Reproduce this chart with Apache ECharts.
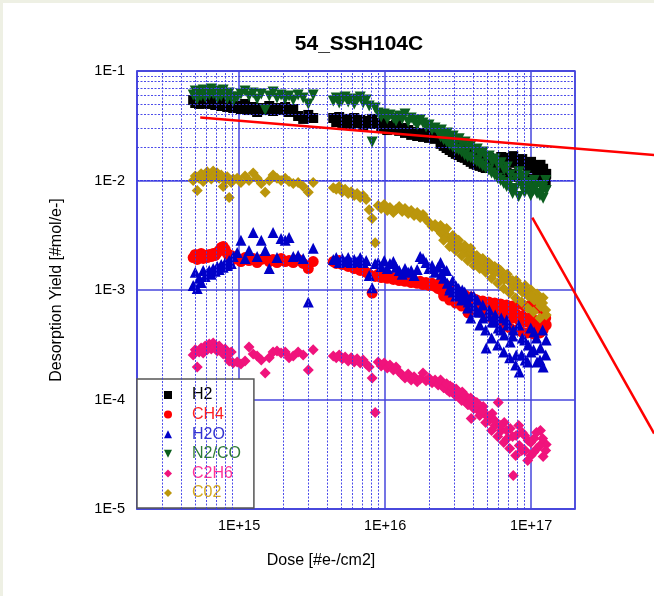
<!DOCTYPE html>
<html>
<head>
<meta charset="utf-8">
<script src="https://cdn.jsdelivr.net/npm/echarts@6/dist/echarts.min.js"></script>
<style>
  html, body { margin: 0; padding: 0; background: #eef0e4; }
  #main { position: absolute; left: 3px; top: 3px; width: 651px; height: 593px; }
</style>
</head>
<body>
<div id="main"></div>
<script>
// 剂量 (共用横坐标)
var dose = [
    4.85e14,5.01e14,5.17e14,5.33e14,5.50e14,5.68e14,5.86e14,6.05e14,6.25e14,6.45e14,6.65e14,6.87e14,7.09e14,7.31e14,7.55e14,7.79e14,8.04e14,8.30e14,8.56e14,8.84e14,9.12e14,
    9.71e14,1.03e15,1.10e15,1.17e15,1.25e15,1.33e15,1.42e15,1.51e15,1.61e15,1.71e15,1.82e15,1.94e15,2.07e15,2.20e15,2.35e15,2.54e15,2.75e15,2.98e15,3.22e15,
    4.42e15,4.63e15,4.85e15,5.09e15,5.33e15,5.59e15,5.86e15,6.15e15,6.44e15,6.76e15,7.08e15,7.43e15,7.79e15,8.16e15,8.56e15,
    8.97e15,9.41e15,9.87e15,1.035e16,1.08e16,1.14e16,1.19e16,1.25e16,1.31e16,1.37e16,1.44e16,1.51e16,1.58e16,1.66e16,1.74e16,1.82e16,1.91e16,2.00e16,2.10e16,2.20e16,
    2.31e16,2.43e16,2.54e16,2.67e16,2.79e16,2.93e16,3.07e16,3.22e16,3.38e16,3.54e16,3.71e16,3.89e16,4.08e16,4.28e16,4.49e16,4.70e16,4.93e16,5.17e16,5.42e16,5.68e16,
    5.96e16,6.25e16,6.55e16,6.87e16,7.20e16,7.55e16,7.91e16,8.30e16,8.70e16,9.12e16,9.56e16,1.00e17,1.05e17,1.10e17,1.16e17,1.21e17,1.27e17
];

var yieldH2 = [
    0.0543,0.0510,0.0555,0.0500,0.0532,0.0567,0.0510,0.0543,0.0500,0.0555,0.0521,0.0489,0.0543,0.0510,0.0479,0.0532,0.0500,0.0469,0.0521,0.0489,0.0459,
    0.0479,0.0450,0.0500,0.0440,0.0469,0.0422,0.0459,0.0440,0.0479,0.0431,0.0459,0.0440,0.0469,0.0422,0.0450,0.0388,0.0365,0.0397,0.0372,
    0.0372,0.0342,0.0380,0.0328,0.0365,0.0350,0.0322,0.0372,0.0335,0.0357,0.0315,0.0350,0.0328,0.0365,0.0335,
    0.0328,0.0302,0.0335,0.0289,0.0315,0.0296,0.0322,0.0284,0.0302,0.0272,0.0289,0.0261,0.0278,0.0255,0.0272,0.0250,0.0266,0.0245,0.0261,0.0240,
    0.0250,0.0235,0.0245,0.0220,0.0211,0.0198,0.0207,0.0190,0.0198,0.0186,0.0178,0.0190,0.0161,0.0145,0.0171,0.0164,0.0154,0.0161,0.0148,0.0154,
    0.0154,0.0164,0.0148,0.0161,0.0145,0.0167,0.0151,0.0139,0.0157,0.0145,0.0130,0.0148,0.0136,0.0122,0.0139,0.0128,0.0115
];

var yieldCH4 = [
    0.00198,0.00211,0.00190,0.00202,0.00216,0.00194,0.00207,0.00198,0.00211,0.00202,0.00216,0.00207,0.00220,0.00230,0.00245,0.00250,0.00235,0.00216,0.00198,0.00207,0.00190,
    0.00194,0.00182,0.00198,0.00186,0.00194,0.00178,0.00190,0.00198,0.00182,0.00190,0.00178,0.00194,0.00182,0.00186,0.00178,0.00190,0.00175,0.00157,0.00182,
    0.00182,0.00175,0.00186,0.00171,0.00175,0.00164,0.00167,0.00157,0.00161,0.00151,0.00154,0.00145,0.00139,0.000939,0.00133,
    0.00139,0.00130,0.00136,0.00128,0.00133,0.00125,0.00130,0.00122,0.00128,0.00120,0.00125,0.00117,0.00122,0.00115,0.00120,0.00112,0.00117,0.00110,0.00115,0.00108,
    0.00103,0.00100,0.00101,0.000958,0.000919,0.000979,0.000881,0.000845,0.000900,0.000810,0.000617,0.000777,0.000827,0.000729,0.000761,0.000699,0.000745,0.000671,0.000714,0.000643,
    0.000685,0.000617,0.000657,0.000579,0.000630,0.000555,0.000604,0.000532,0.000579,0.000510,0.000555,0.000489,0.000532,0.000459,0.000510,0.000431,0.000479
];

var yieldH2O = [
    0.00110,0.00145,0.00103,0.00128,0.00117,0.00151,0.00133,0.00142,0.00151,0.00139,0.00157,0.00148,0.00164,0.00154,0.00171,0.00161,0.00178,0.00167,0.00186,0.00175,0.00202,
    0.00220,0.00284,0.00194,0.00230,0.00335,0.00202,0.00284,0.00230,0.00157,0.00335,0.00198,0.00296,0.00284,0.00302,0.00202,0.00207,0.00194,0.000777,0.00240,
    0.00190,0.00198,0.00178,0.00194,0.00182,0.00198,0.00178,0.00190,0.00182,0.00198,0.00178,0.00186,0.00136,0.00105,0.00175,
    0.00178,0.00164,0.00186,0.00157,0.00175,0.00182,0.00161,0.00151,0.00139,0.00157,0.00145,0.00151,0.00136,0.00154,0.00202,0.00194,0.00178,0.00157,0.00167,0.00145,
    0.00161,0.00139,0.00151,0.00115,0.00105,0.000958,0.00108,0.000900,0.00100,0.000845,0.000777,0.000881,0.000714,0.000810,0.000630,0.000555,0.000296,0.000657,0.000510,0.000591,
    0.000450,0.000555,0.000388,0.000479,0.000335,0.000431,0.000255,0.000178,0.000365,0.000230,0.000315,0.000272,0.000414,0.000220,0.000296,0.000198,0.000350
];

var yieldN2CO = [
    0.0604,0.0657,0.0555,0.0630,0.0591,0.0671,0.0579,0.0643,0.0604,0.0685,0.0617,0.0657,0.0567,0.0630,0.0591,0.0671,0.0604,0.0555,0.0630,0.0579,0.0532,
    0.0579,0.0617,0.0657,0.0591,0.0630,0.0555,0.0617,0.0440,0.0591,0.0643,0.0567,0.0604,0.0555,0.0591,0.0543,0.0604,0.0567,0.0500,0.0604,
    0.0532,0.0567,0.0510,0.0543,0.0579,0.0521,0.0555,0.0500,0.0543,0.0579,0.0510,0.0543,0.0479,0.0225,0.0459,
    0.0414,0.0380,0.0405,0.0365,0.0397,0.0372,0.0350,0.0388,0.0365,0.0405,0.0342,0.0372,0.0350,0.0322,0.0357,0.0335,0.0308,0.0322,0.0289,0.0302,
    0.0278,0.0289,0.0261,0.0272,0.0245,0.0255,0.0230,0.0240,0.0216,0.0225,0.0198,0.0211,0.0186,0.0194,0.0171,0.0182,0.0161,0.0167,0.0148,0.0157,
    0.0136,0.0145,0.0125,0.0133,0.0112,0.0081,0.0105,0.0120,0.0090,0.0110,0.0096,0.0085,0.0100,0.0076,0.0090,0.0069,0.0081
];

var yieldC2H6 = [
    0.000255,0.000284,0.000198,0.000272,0.000296,0.000266,0.000308,0.000284,0.000322,0.000289,0.000328,0.000302,0.000278,0.000308,0.000284,0.000261,0.000289,0.000250,0.000225,0.000272,0.000216,
    0.000220,0.000211,0.000225,0.000302,0.000261,0.000250,0.000230,0.000175,0.000240,0.000272,0.000278,0.000266,0.000272,0.000240,0.000250,0.000272,0.000255,0.000186,0.000284,
    0.000250,0.000240,0.000255,0.000235,0.000245,0.000225,0.000240,0.000220,0.000235,0.000216,0.000230,0.000211,0.000198,0.000157,0.0000761,
    0.000220,0.000202,0.000216,0.000194,0.000207,0.000186,0.000198,0.000178,0.000167,0.000157,0.000171,0.000151,0.000161,0.000145,0.000154,0.000175,0.000148,0.000157,0.000142,0.000151,
    0.000136,0.000145,0.000130,0.000122,0.000133,0.000115,0.000125,0.000108,0.000117,0.000100,0.0000900,0.0000671,0.0000958,0.0000827,0.0000761,0.0000863,0.0000714,0.0000643,0.0000745,0.0000579,
    0.0000939,0.0000521,0.0000617,0.0000440,0.0000543,0.0000202,0.0000469,0.0000380,0.0000500,0.0000342,0.0000422,0.0000308,0.0000440,0.0000357,0.0000521,0.0000302,0.0000388
];

var yieldCO2 = [
    0.0100,0.0110,0.0081,0.0105,0.0115,0.0098,0.0108,0.0120,0.0112,0.0103,0.0122,0.0110,0.0117,0.0105,0.0112,0.0088,0.0100,0.0108,0.0070,0.0096,0.0103,
    0.0105,0.0096,0.0110,0.0100,0.0117,0.0105,0.0094,0.0078,0.0100,0.0112,0.0105,0.0100,0.0105,0.0098,0.0094,0.0096,0.0088,0.0078,0.0096,
    0.0086,0.0083,0.0088,0.0079,0.0083,0.0076,0.0079,0.0073,0.0076,0.0070,0.0073,0.0067,0.0054,0.0045,0.0027,
    0.00591,0.00555,0.00604,0.00532,0.00567,0.00510,0.00543,0.00579,0.00521,0.00555,0.00500,0.00532,0.00479,0.00510,0.00459,0.00489,0.00440,0.00414,0.00380,0.00397,
    0.00357,0.00328,0.00342,0.00308,0.00289,0.00272,0.00284,0.00255,0.00240,0.00225,0.00211,0.00220,0.00198,0.00178,0.00190,0.00175,0.00161,0.00171,0.00151,0.00145,
    0.00157,0.00136,0.00125,0.00139,0.00117,0.00108,0.00122,0.00103,0.00096,0.00110,0.00088,0.00100,0.00081,0.00092,0.00071,0.00085,0.00059
];

// 高剂量段的第二组测量 (数据更密集)
var dose2 = [
    2.40e16,2.52e16,2.64e16,2.77e16,2.91e16,3.05e16,3.19e16,3.35e16,3.51e16,3.68e16,3.86e16,4.05e16,4.25e16,4.45e16,4.67e16,4.89e16,5.13e16,5.37e16,
    5.64e16,5.91e16,6.19e16,6.50e16,6.81e16,7.14e16,7.48e16,7.85e16,8.23e16,8.63e16,9.04e16,9.48e16,9.95e16,1.04e17,1.09e17,1.15e17,1.20e17,1.26e17
];
var yieldH2b = [
    0.0216,0.0207,0.0198,0.0190,0.0182,0.0175,0.0171,0.0164,0.0161,0.0154,0.0148,0.0142,0.0139,0.0136,0.0133,0.0130,0.0136,0.0130,
    0.0125,0.0122,0.0125,0.0120,0.0117,0.0115,0.0112,0.0110,0.0108,0.0105,0.0105,0.0103,0.0100,0.0100,0.0098,0.0098,0.0100,0.0096
];
var yieldCH4b = [
    0.00117,0.000881,0.00110,0.000810,0.00103,0.000761,0.000958,0.000714,0.000900,0.000685,0.000863,0.000657,0.000810,0.000630,0.000793,0.000604,0.000777,0.000555,
    0.000761,0.000510,0.000745,0.000469,0.000729,0.000450,0.000714,0.000431,0.000745,0.000414,0.000714,0.000405,0.000729,0.000397,0.000685,0.000405,0.000657,0.000555
];
var yieldH2Ob = [
    0.00178,0.00128,0.00151,0.00100,0.00122,0.000881,0.00103,0.000810,0.000958,0.000685,0.000555,0.000881,0.000630,0.000479,0.000729,0.000431,0.000579,0.000365,
    0.000510,0.000315,0.000431,0.000272,0.000532,0.000240,0.000380,0.000207,0.000479,0.000255,0.000350,0.000220,0.000450,0.000284,0.000365,0.000230,0.000431,0.000255
];
var yieldN2COb = [
    0.0250,0.0235,0.0225,0.0211,0.0202,0.0194,0.0190,0.0182,0.0171,0.0164,0.0161,0.0154,0.0148,0.0142,0.0136,0.0130,0.0125,0.0117,
    0.0112,0.0105,0.0100,0.00939,0.00881,0.00958,0.00761,0.00845,0.00714,0.0105,0.00777,0.00881,0.00729,0.0081,0.0090,0.00729,0.00845,0.0100
];
var yieldC2H6b = [
    0.000151,0.000128,0.000139,0.000117,0.000128,0.000108,0.000117,0.0000979,0.000110,0.0000900,0.000103,0.0000827,0.0000939,0.0000714,0.0000793,0.0000617,0.0000699,0.0000521,
    0.0000643,0.0000459,0.0000579,0.0000405,0.0000521,0.0000357,0.0000459,0.0000308,0.0000579,0.0000342,0.0000469,0.0000278,0.0000405,0.0000328,0.0000500,0.0000380,0.0000440,0.0000342
];
var yieldCO2b = [
    0.00388,0.00284,0.00365,0.00250,0.00315,0.00230,0.00284,0.00207,0.00255,0.00186,0.00240,0.00167,0.00207,0.00157,0.00194,0.00145,0.00178,0.00128,
    0.00164,0.00115,0.00151,0.00103,0.00133,0.000939,0.00122,0.000845,0.00112,0.000777,0.00100,0.000685,0.000881,0.000630,0.000810,0.000555,0.000761,0.000657
];

// 两条红色辅助线 (端点, 数据坐标)
var fitLineA = [[5.42e14, 3.76e-2], [6.97e17, 1.71e-2]];
var fitLineB = [[1.02e17, 4.59e-3], [6.97e17, 4.89e-5]];

// 次网格线位置
var xMinor = [3e14,4e14,5e14,6e14,7e14,8e14,9e14,
    2e15,3e15,4e15,5e15,6e15,7e15,8e15,9e15,
    2e16,3e16,4e16,5e16,6e16,7e16,8e16,9e16];
var yMinor = [];
[1e-5, 1e-4, 1e-3, 1e-2].forEach(function (d) {
    for (var k = 2; k <= 9; k++) yMinor.push(k * d);
});

var FONT = 'Liberation Sans';
var blue = '#4646dc';
var DIAMOND = 'path://M5,0 L10,5 L5,10 L0,5 Z';
var DOWN_TRI = 'path://M0,0 L10,0 L5,10 Z';

function pairs(ys, ys2) {
    var a = dose.map(function (d, i) { return [d, ys[i]]; });
    var b = dose2.map(function (d, i) { return [d, ys2[i]]; });
    return a.concat(b);
}

function expLabel(v, plus) {
    var e = Math.log10(v);
    var r = Math.round(e);
    if (Math.abs(e - r) > 1e-6) return '';
    return '1E' + (r >= 0 ? (plus ? '+' : '') : '-') + Math.abs(r);
}

var myChart = echarts.init(document.getElementById('main'));

var option = {
    backgroundColor: '#fff',
    animation: false,
    title: {
        text: '54_SSH104C',
        left: 351,
        top: 26,
        textAlign: 'center',
        textStyle: { fontFamily: FONT, fontSize: 21, fontWeight: 'bold', color: '#000' }
    },
    legend: {
        orient: 'vertical',
        left: 134,
        top: 376,
        padding: [8, 13, 7, 27],
        itemGap: 3.6,
        itemWidth: 8,
        itemHeight: 8,
        backgroundColor: '#fff',
        borderColor: '#555',
        borderWidth: 1.5,
        textStyle: { fontFamily: FONT, fontSize: 16, lineHeight: 16, padding: [0, 0, 0, 15] },
        data: [
            { name: 'H2', textStyle: { color: '#000' } },
            { name: 'CH4', textStyle: { color: '#ff2020' } },
            { name: 'H2O', textStyle: { color: '#3434d0' } },
            { name: 'N2/CO', textStyle: { color: '#2e7a36' } },
            { name: 'C2H6', textStyle: { color: '#ff3399' } },
            { name: 'C02', textStyle: { color: '#d4a820' } }
        ]
    },
    grid: {
        left: 134,
        right: 79,
        top: 68,
        bottom: 87,
        show: true,
        backgroundColor: '#fff',
        borderColor: blue,
        borderWidth: 1.5
    },
    xAxis: {
        type: 'log',
        logBase: 10,
        min: 2e14,
        max: 2e17,
        name: 'Dose [#e-/cm2]',
        nameLocation: 'middle',
        nameGap: 44,
        nameTextStyle: { fontFamily: FONT, fontSize: 16, color: '#000', padding: [0, 70, 0, 0] },
        axisLine: { lineStyle: { color: blue, width: 1.5 } },
        axisTick: { show: false },
        axisLabel: {
            margin: 9,
            fontFamily: FONT,
            fontSize: 14.5,
            color: '#000',
            showMinLabel: false,
            showMaxLabel: false,
            formatter: function (v) { return expLabel(v, true); }
        },
        splitLine: { show: true, lineStyle: { color: blue, width: 1.5 } }
    },
    yAxis: {
        type: 'log',
        logBase: 10,
        min: 1e-5,
        max: 1e-1,
        name: 'Desorption Yield [#mol/e-]',
        nameLocation: 'middle',
        nameGap: 72,
        nameTextStyle: { fontFamily: FONT, fontSize: 16, color: '#000' },
        axisLine: { lineStyle: { color: blue, width: 1.5 } },
        axisTick: { show: false },
        axisLabel: {
            margin: 12,
            fontFamily: FONT,
            fontSize: 14.5,
            color: '#000',
            formatter: function (v) { return expLabel(v, false); }
        },
        splitLine: { show: true, lineStyle: { color: blue, width: 1.5 } }
    },
    series: [
        {
            // 次网格
            name: 'minor',
            type: 'scatter',
            data: [],
            silent: true,
            z: 1,
            markLine: {
                silent: true,
                symbol: ['none', 'none'],
                label: { show: false },
                lineStyle: { color: '#3a3ae8', type: [2, 1.5], width: 1, opacity: 0.9 },
                data: xMinor.map(function (v) { return { xAxis: v }; })
                    .concat(yMinor.map(function (v) { return { yAxis: v }; }))
            }
        },
        {
            name: 'H2', type: 'scatter', z: 3,
            symbol: 'rect', symbolSize: 10,
            itemStyle: { color: '#000', opacity: 1 },
            data: pairs(yieldH2, yieldH2b)
        },
        {
            name: 'CH4', type: 'scatter', z: 3,
            symbol: 'circle', symbolSize: 11,
            itemStyle: { color: '#ff0000', opacity: 1 },
            data: pairs(yieldCH4, yieldCH4b)
        },
        {
            name: 'H2O', type: 'scatter', z: 3,
            symbol: 'triangle', symbolSize: 11,
            itemStyle: { color: '#0000c8', opacity: 1 },
            data: pairs(yieldH2O, yieldH2Ob)
        },
        {
            name: 'N2/CO', type: 'scatter', z: 3,
            symbol: DOWN_TRI, symbolSize: 11,
            itemStyle: { color: '#0b5e1e', opacity: 1 },
            data: pairs(yieldN2CO, yieldN2COb)
        },
        {
            name: 'C2H6', type: 'scatter', z: 3,
            symbol: DIAMOND, symbolSize: 11,
            itemStyle: { color: '#f0137c', opacity: 1 },
            data: pairs(yieldC2H6, yieldC2H6b)
        },
        {
            name: 'C02', type: 'scatter', z: 3,
            symbol: DIAMOND, symbolSize: 11,
            itemStyle: { color: '#bb960c', opacity: 1 },
            data: pairs(yieldCO2, yieldCO2b)
        }
    ]
};

myChart.setOption(option);

// 红色辅助线: 用坐标轴换算像素, 可延伸到绘图区外
function toPx(line) {
    return line.map(function (p) {
        return myChart.convertToPixel({ xAxisIndex: 0, yAxisIndex: 0 }, p);
    });
}
myChart.setOption({
    graphic: [fitLineA, fitLineB].map(function (line) {
        return {
            type: 'polyline',
            silent: true,
            z: 10,
            shape: { points: toPx(line) },
            style: { stroke: '#ff0000', lineWidth: 2.5, fill: null }
        };
    })
});
</script>
</body>
</html>
